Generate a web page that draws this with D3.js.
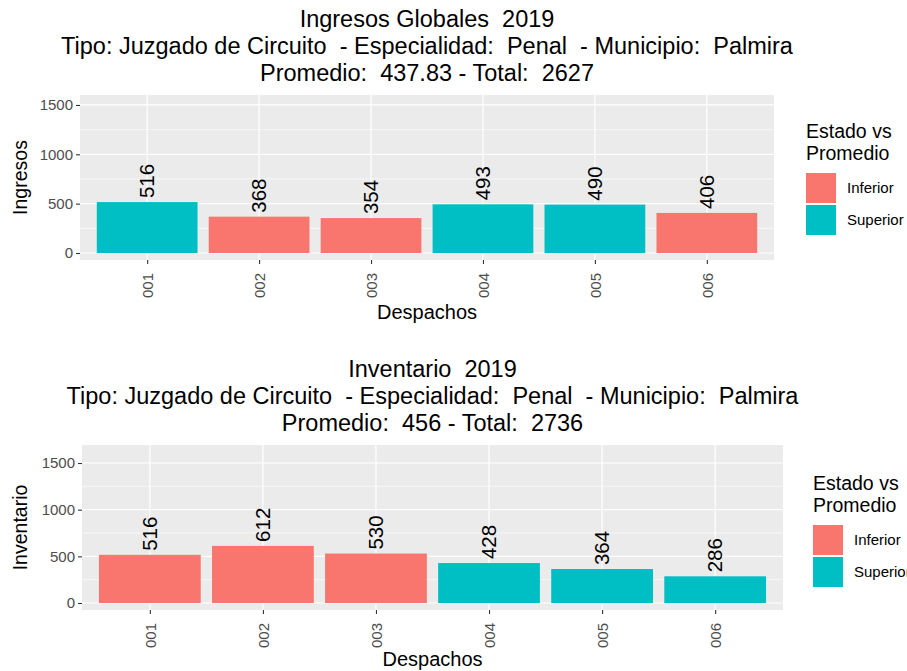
<!DOCTYPE html>
<html>
<head>
<meta charset="utf-8">
<script src="https://cdn.jsdelivr.net/npm/d3@7"></script>
<style>
  body { margin: 0; background: #fff; }
  svg { display: block; font-family: "Liberation Sans", Arial, sans-serif; }
  svg text { white-space: pre; }
</style>
</head>
<body>
<div id="chart"></div>
<script>
// data
const despachos = ["001", "002", "003", "004", "005", "006"];
const ingresos = [516, 368, 354, 493, 490, 406];
const estadoIngresos = ["Superior", "Inferior", "Inferior", "Superior", "Superior", "Inferior"];
const inventario = [516, 612, 530, 428, 364, 286];
const estadoInventario = ["Inferior", "Inferior", "Inferior", "Superior", "Superior", "Superior"];
const estados = ["Inferior", "Superior"];
const yTicks = [0, 500, 1000, 1500];
const yMinor = [250, 750, 1250];

const titlesIngresos = [
  "Ingresos Globales  2019",
  "Tipo: Juzgado de Circuito  - Especialidad:  Penal  - Municipio:  Palmira",
  "Promedio:  437.83 - Total:  2627"
];
const titlesInventario = [
  "Inventario  2019",
  "Tipo: Juzgado de Circuito  - Especialidad:  Penal  - Municipio:  Palmira",
  "Promedio:  456 - Total:  2736"
];

const W = 907, H = 671;
const color = d3.scaleOrdinal().domain(estados).range(["#F8766D", "#00BFC4"]);

const svg = d3.select("#chart").append("svg")
  .attr("width", W)
  .attr("height", H);

function drawPanel(cfg) {
  const { values, estado, titles, yLabel, box, yDomain, titleY, xTitleGap, legendX, legendY } = cfg;
  const g = svg.append("g");

  // titles
  titles.forEach((t, i) => {
    g.append("text")
      .attr("x", (box.left + box.right) / 2)
      .attr("y", titleY + i * 27)
      .attr("text-anchor", "middle")
      .attr("font-size", "23.5px")
      .attr("fill", "#000")
      .text(t);
  });

  // scales -- ggplot discrete axis: 0.6 unit padding each side
  const x = d3.scalePoint().domain(despachos).range([box.left, box.right]).padding(0.6);
  const unit = x.step();
  const y = d3.scaleLinear().domain(yDomain).range([box.bottom, box.top]);

  // panel background
  g.append("rect")
    .attr("x", box.left).attr("y", box.top)
    .attr("width", box.right - box.left).attr("height", box.bottom - box.top)
    .attr("fill", "#EBEBEB");

  // grid
  g.selectAll(".minor").data(yMinor).join("line")
    .attr("x1", box.left).attr("x2", box.right)
    .attr("y1", d => y(d)).attr("y2", d => y(d))
    .attr("stroke", "#fff").attr("stroke-width", 0.6);
  g.selectAll(".major").data(yTicks).join("line")
    .attr("x1", box.left).attr("x2", box.right)
    .attr("y1", d => y(d)).attr("y2", d => y(d))
    .attr("stroke", "#fff").attr("stroke-width", 1.2);
  g.selectAll(".vgrid").data(despachos).join("line")
    .attr("x1", d => x(d)).attr("x2", d => x(d))
    .attr("y1", box.top).attr("y2", box.bottom)
    .attr("stroke", "#fff").attr("stroke-width", 1.2);

  // bars
  g.selectAll(".bar").data(values).join("rect")
    .attr("x", (d, i) => x(despachos[i]) - unit * 0.45)
    .attr("width", unit * 0.9)
    .attr("y", d => y(d))
    .attr("height", d => y(0) - y(d))
    .attr("fill", (d, i) => color(estado[i]));

  // value labels
  g.selectAll(".val").data(values).join("text")
    .attr("transform", (d, i) => `translate(${x(despachos[i])},${y(d) - 4}) rotate(-90)`)
    .attr("dy", "0.35em")
    .attr("font-size", "20.5px")
    .attr("fill", "#000")
    .text(d => d);

  // y axis
  const yAxis = g.append("g")
    .attr("transform", `translate(${box.left},0)`)
    .call(d3.axisLeft(y).tickValues(yTicks).tickFormat(d3.format("d")).tickSize(4).tickPadding(3));
  yAxis.select(".domain").remove();
  yAxis.selectAll("line").attr("stroke", "#333").attr("stroke-width", 1.1);
  yAxis.selectAll("text").attr("fill", "#4D4D4D").attr("font-size", "15px")
    .attr("font-family", "Liberation Sans, Arial, sans-serif");

  // x axis
  const xAxis = g.append("g")
    .attr("transform", `translate(0,${box.bottom})`)
    .call(d3.axisBottom(x).tickSize(4).tickPadding(0));
  xAxis.select(".domain").remove();
  xAxis.selectAll("line").attr("stroke", "#333").attr("stroke-width", 1.1);
  xAxis.selectAll("text")
    .attr("fill", "#4D4D4D").attr("font-size", "15px")
    .attr("font-family", "Liberation Sans, Arial, sans-serif")
    .attr("text-anchor", "end")
    .attr("transform", "translate(0,13) rotate(-90)")
    .attr("x", 0).attr("y", 0).attr("dy", "0.35em");

  // axis titles
  g.append("text")
    .attr("x", (box.left + box.right) / 2)
    .attr("y", box.bottom + xTitleGap)
    .attr("text-anchor", "middle")
    .attr("font-size", "20px")
    .text("Despachos");
  g.append("text")
    .attr("transform", `translate(27,${(box.top + box.bottom) / 2}) rotate(-90)`)
    .attr("text-anchor", "middle")
    .attr("font-size", "19.5px")
    .text(yLabel);

  // legend
  const lg = g.append("g").attr("transform", `translate(${legendX},${legendY})`);
  lg.append("text").attr("x", 0).attr("y", 0).attr("font-size", "19.5px").text("Estado vs");
  lg.append("text").attr("x", 0).attr("y", 22).attr("font-size", "19.5px").text("Promedio");
  estados.forEach((e, i) => {
    lg.append("rect")
      .attr("x", 0).attr("y", 35 + i * 32)
      .attr("width", 30).attr("height", 30)
      .attr("fill", color(e));
    lg.append("text")
      .attr("x", 41).attr("y", 35 + i * 32 + 15)
      .attr("dy", "0.35em")
      .attr("font-size", "15px")
      .text(e);
  });
}

drawPanel({
  values: ingresos, estado: estadoIngresos, titles: titlesIngresos, yLabel: "Ingresos",
  box: { left: 80, right: 774, top: 95, bottom: 260 },
  yDomain: [-71, 1601], titleY: 27, xTitleGap: 59,
  legendX: 806, legendY: 138
});

drawPanel({
  values: inventario, estado: estadoInventario, titles: titlesInventario, yLabel: "Inventario",
  box: { left: 82, right: 783, top: 445, bottom: 610 },
  yDomain: [-75, 1693], titleY: 377, xTitleGap: 56,
  legendX: 813, legendY: 490
});
</script>
</body>
</html>
